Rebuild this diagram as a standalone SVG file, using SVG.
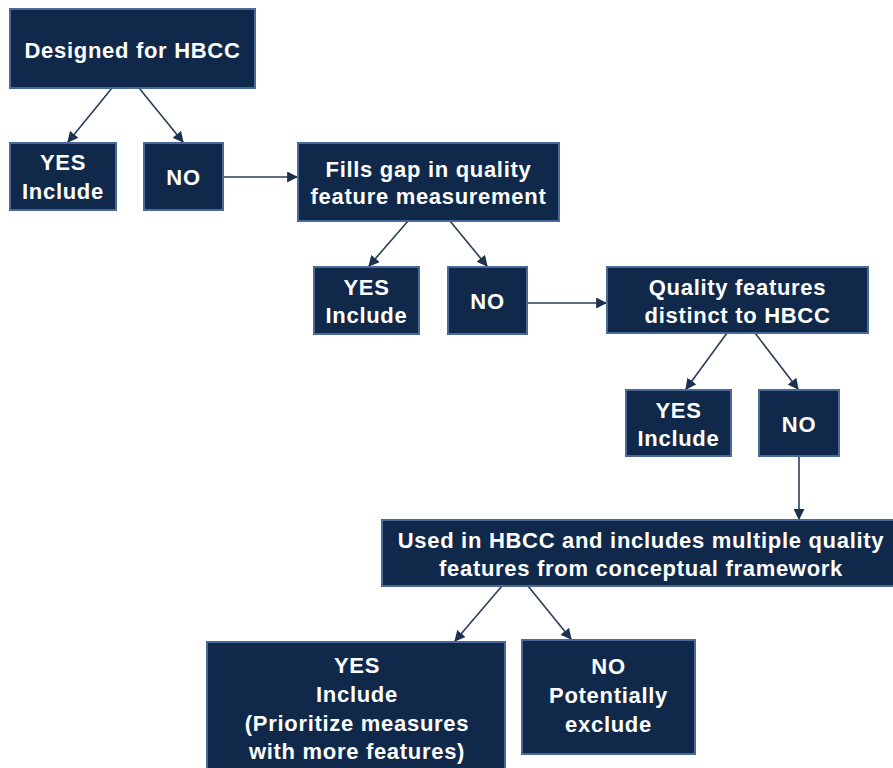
<svg xmlns="http://www.w3.org/2000/svg" width="893" height="768" viewBox="0 0 893 768">
<defs>
<style>
.box{fill:#10294b;stroke:#4a6898;stroke-width:2}
.t{font-family:"Liberation Sans",Arial,sans-serif;font-weight:bold;font-size:22px;fill:#ffffff;text-anchor:middle;letter-spacing:0.7px}
.c{stroke:#2b3d56;stroke-width:1.6;fill:none;marker-end:url(#ah)}
</style>
<marker id="ah" viewBox="0 0 10 10" refX="9" refY="5" markerWidth="11" markerHeight="11" markerUnits="userSpaceOnUse" orient="auto">
<path d="M0,0 L10,5 L0,10 z" fill="#1d3050"/>
</marker>
</defs>
<rect width="893" height="768" fill="#ffffff"/>
<g id="connectors">
<line class="c" x1="112" y1="88" x2="68" y2="142"/>
<line class="c" x1="139" y1="88" x2="183" y2="142"/>
<line class="c" x1="223" y1="177" x2="297" y2="177"/>
<line class="c" x1="408" y1="221" x2="369" y2="266"/>
<line class="c" x1="450" y1="221" x2="487" y2="266"/>
<line class="c" x1="527" y1="303" x2="606" y2="303"/>
<line class="c" x1="727" y1="333" x2="686" y2="389"/>
<line class="c" x1="755" y1="333" x2="798" y2="389"/>
<line class="c" x1="799" y1="456" x2="799" y2="519"/>
<line class="c" x1="502" y1="586" x2="455" y2="641"/>
<line class="c" x1="528" y1="586" x2="571" y2="639"/>
</g>
<g id="n1"><rect class="box" x="10" y="9" width="245" height="79"/><text class="t" x="132.5" y="58">Designed for HBCC</text></g>
<g id="n2"><rect class="box" x="10" y="143" width="106" height="67"/><text class="t" x="63" y="170">YES</text><text class="t" x="63" y="199">Include</text></g>
<g id="n3"><rect class="box" x="144" y="143" width="79" height="67"/><text class="t" x="183.5" y="185">NO</text></g>
<g id="n4"><rect class="box" x="298" y="143" width="261" height="78"/><text class="t" x="428.5" y="177">Fills gap in quality</text><text class="t" x="428.5" y="204">feature measurement</text></g>
<g id="n5"><rect class="box" x="314" y="267" width="105" height="67"/><text class="t" x="366.5" y="295">YES</text><text class="t" x="366.5" y="323">Include</text></g>
<g id="n6"><rect class="box" x="448" y="267" width="79" height="67"/><text class="t" x="487.5" y="309">NO</text></g>
<g id="n7"><rect class="box" x="607" y="267" width="261" height="66"/><text class="t" x="737.5" y="295">Quality features</text><text class="t" x="737.5" y="323">distinct to HBCC</text></g>
<g id="n8"><rect class="box" x="626" y="390" width="105" height="66"/><text class="t" x="678.5" y="418">YES</text><text class="t" x="678.5" y="446">Include</text></g>
<g id="n9"><rect class="box" x="759" y="390" width="80" height="66"/><text class="t" x="799" y="432">NO</text></g>
<g id="n10"><rect class="box" x="382" y="520" width="512" height="66"/><text class="t" x="641" y="548">Used in HBCC and includes multiple quality</text><text class="t" x="641" y="576">features from conceptual framework</text></g>
<g id="n11"><rect class="box" x="207" y="642" width="298" height="130"/><text class="t" x="357" y="673">YES</text><text class="t" x="357" y="702">Include</text><text class="t" x="357" y="731">(Prioritize measures</text><text class="t" x="357" y="759">with more features)</text></g>
<g id="n12"><rect class="box" x="522" y="640" width="173" height="114"/><text class="t" x="608.5" y="674">NO</text><text class="t" x="608.5" y="703">Potentially</text><text class="t" x="608.5" y="732">exclude</text></g>
</svg>
